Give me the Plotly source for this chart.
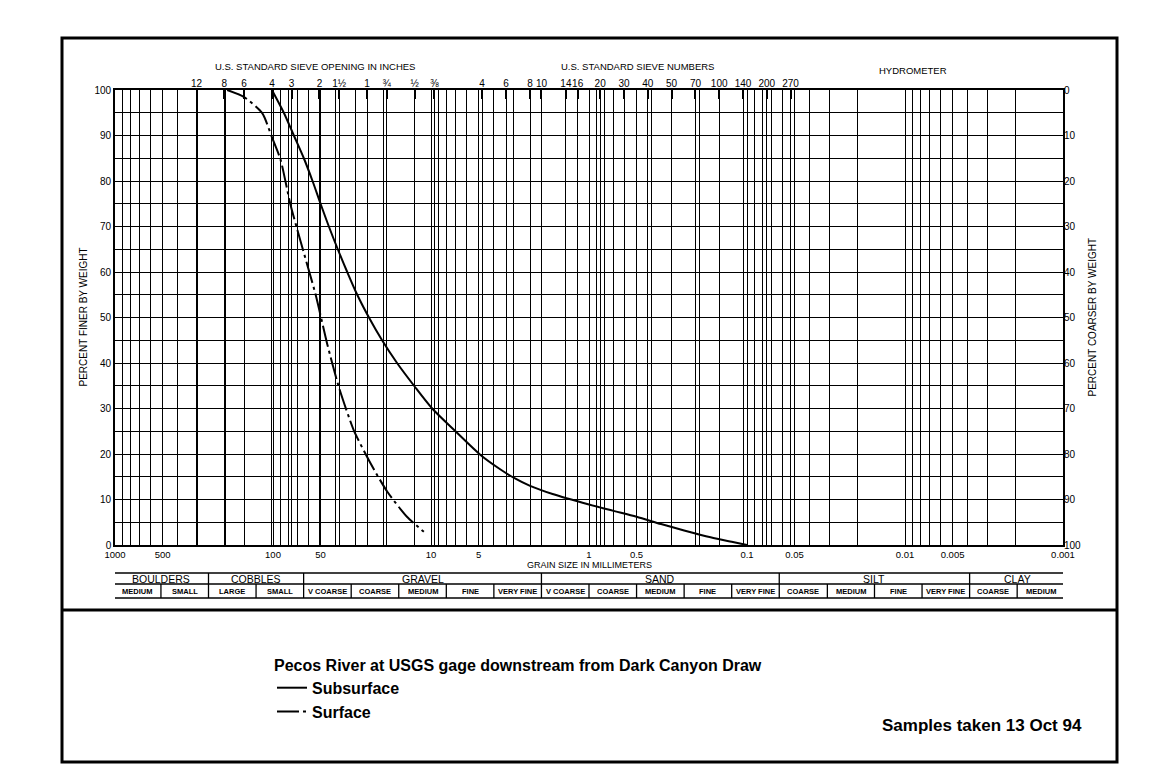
import math
import plotly.graph_objects as go

# ---- grain-size distribution: percent finer by weight vs grain size (mm) ----
subsurface_mm = [101.6, 85.4, 73.8, 63.8, 56.2, 50.0, 44.3, 38.9, 33.9, 29.3, 24.7, 20.4,
                 16.4, 12.8, 9.83, 7.0, 4.86, 3.63, 3.0, 2.36, 1.7, 1.0, 0.7, 0.5, 0.35,
                 0.25, 0.17, 0.125, 0.1]
subsurface_pct = [100, 95, 90, 85, 80, 75, 70, 65, 60, 55, 50, 45,
                  40, 35, 30, 25, 19.8, 16.6, 14.8, 13.0, 11.2, 8.9, 7.5, 6.2, 4.6,
                  3.2, 1.7, 0.7, 0.0]

surface_mm = [195, 153, 117, 101, 89.6, 77.5, 67.0, 53.8, 45.4, 38.3, 30.8, 24.1, 18.9, 14.2, 11.1]
surface_pct = [100, 98.5, 94.9, 89.4, 84.7, 74.8, 66.8, 55.1, 44.2, 34.7, 25.2, 17.9, 11.7, 6.2, 2.9]

# ---- axis labelling ----
grain_labels = [1000, 500, 100, 50, 10, 5, 1, 0.5, 0.1, 0.05, 0.01, 0.005, 0.001]
grain_label_text = ["1000", "500", "100", "50", "10", "5", "1", "0.5", "0.1",
                    "0.05", "0.01", "0.005", "0.001"]

sieve_inch_mm = [304.8, 203.2, 152.4, 101.6, 76.2, 50.8, 38.1, 25.4, 19.05, 12.7, 9.525]
sieve_inch_text = ["12", "8", "6", "4", "3", "2", "1½", "1", "¾", "½", "⅜"]
sieve_no_mm = [4.75, 3.35, 2.36, 2.0, 1.4, 1.18, 0.85, 0.6, 0.425, 0.3, 0.212,
               0.15, 0.106, 0.075, 0.053]
sieve_no_text = ["4", "6", "8", "10", "14", "16", "20", "30", "40", "50", "70",
                 "100", "140", "200", "270"]

pct_ticks = list(range(0, 101, 5))

# ---- soil classification bands (mm limits) ----
major_classes = ["BOULDERS", "COBBLES", "GRAVEL", "SAND", "SILT", "CLAY"]
major_limits = [1024, 256, 64, 2, 0.0625, 0.0039, 0.00098]
sub_classes = ["MEDIUM", "SMALL", "LARGE", "SMALL",
               "V COARSE", "COARSE", "MEDIUM", "FINE", "VERY FINE",
               "V COARSE", "COARSE", "MEDIUM", "FINE", "VERY FINE",
               "COARSE", "MEDIUM", "FINE", "VERY FINE",
               "COARSE", "MEDIUM"]
sub_limits = [1024, 512, 256, 128, 64, 32, 16, 8, 4, 2, 1, 0.5, 0.25, 0.125,
              0.0625, 0.031, 0.0156, 0.0078, 0.0039, 0.00195, 0.00098]

# ---- page geometry (pixels) ----
W, H = 1150, 783
PL, PR, PT, PB = 115, 1063, 90, 545


def px(x):
    return (x - PL) / (PR - PL)


def py(y):
    return (PB - y) / (PB - PT)


TXT = "Liberation Sans"
INK = "black"

# vertical grid: 1-9 in every decade plus the sieve openings
grid_vals = set()
for e in range(-3, 3):
    for d in range(1, 10):
        grid_vals.add(round(d * 10 ** e, 6))
grid_vals.add(1000)
grid_vals.update(sieve_inch_mm)
grid_vals.update(sieve_no_mm)
grid_vals = sorted(grid_vals)
label_map = dict(zip(grain_labels, grain_label_text))
grid_text = []
for v in grid_vals:
    lab = ""
    for k, t in label_map.items():
        if abs(v - k) / k < 1e-6:
            lab = t
    grid_text.append(lab)

fig = go.Figure()

fig.add_trace(go.Scatter(
    x=subsurface_mm, y=subsurface_pct, mode="lines", name="Subsurface",
    line=dict(color=INK, width=2, shape="spline", smoothing=0.8),
    hoverinfo="skip"))
fig.add_trace(go.Scatter(
    x=surface_mm, y=surface_pct, mode="lines", name="Surface",
    line=dict(color=INK, width=2, shape="spline", smoothing=0.6,
              dash="22px,4px,3px,4px"),
    hoverinfo="skip"))
# percent coarser on the secondary axes (keeps top/right scales active)
fig.add_trace(go.Scatter(
    x=subsurface_mm, y=[100 - p for p in subsurface_pct], xaxis="x2", yaxis="y2",
    mode="lines", line=dict(width=0, color="rgba(0,0,0,0)"), showlegend=False,
    hoverinfo="skip"))

tickfont = dict(family=TXT, size=10, color=INK)

fig.update_layout(
    width=W, height=H,
    margin=dict(l=PL, r=W - PR, t=PT, b=H - PB, pad=0),
    paper_bgcolor="white", plot_bgcolor="white",
    xaxis=dict(type="log", range=[3, -3], tickvals=grid_vals, ticktext=grid_text,
               tickangle=0, showgrid=True, gridcolor=INK, gridwidth=1.4,
               ticks="", showline=True, linecolor=INK, linewidth=1.6, mirror=True,
               tickfont=dict(family=TXT, size=9.5, color=INK), zeroline=False),
    xaxis2=dict(type="log", range=[3, -3], overlaying="x", side="top",
                tickvals=sieve_inch_mm + sieve_no_mm,
                ticktext=sieve_inch_text + sieve_no_text, tickangle=0,
                ticks="inside", ticklen=9, tickwidth=1.6, tickcolor=INK,
                showgrid=False, showline=False, tickfont=tickfont),
    yaxis=dict(range=[0, 100], tickvals=pct_ticks,
               ticktext=[str(v) if v % 10 == 0 else "" for v in pct_ticks],
               showgrid=True, gridcolor=INK, gridwidth=1.4, ticks="",
               showline=True, linecolor=INK, linewidth=1.6, mirror=True,
               tickfont=tickfont, zeroline=False),
    yaxis2=dict(range=[100, 0], overlaying="y", side="right",
                tickvals=list(range(0, 101, 10)), showgrid=False, ticks="",
                tickfont=tickfont, zeroline=False),
    showlegend=True,
    legend=dict(x=px(272), y=py(650), xanchor="left", yanchor="top",
                bgcolor="rgba(0,0,0,0)", borderwidth=0, tracegroupgap=0,
                font=dict(family=TXT, size=16, color=INK, weight="bold"),
                title=dict(text="Pecos River at USGS gage downstream from Dark Canyon Draw",
                           font=dict(family=TXT, size=16, color=INK, weight="bold"),
                           side="top")),
)

shapes = []
annotations = []

# page frame and divider
shapes.append(dict(type="rect", xref="paper", yref="paper", x0=px(62), x1=px(1117),
                   y0=py(762), y1=py(38), line=dict(color=INK, width=3)))
shapes.append(dict(type="line", xref="paper", yref="paper", x0=px(62), x1=px(1117),
                   y0=py(610), y1=py(610), line=dict(color=INK, width=3)))

# classification table
t_top, t_mid, t_bot = py(573), py(584), py(598)
tbl_line = dict(color=INK, width=1.3)
for yy in (t_top, t_mid, t_bot):
    shapes.append(dict(type="line", xref="x", yref="paper", x0=major_limits[0],
                       x1=major_limits[-1], y0=yy, y1=yy, line=tbl_line))
for v in major_limits:
    shapes.append(dict(type="line", xref="x", yref="paper", x0=v, x1=v,
                       y0=t_bot, y1=t_top, line=tbl_line))
for v in sub_limits:
    if v not in major_limits:
        shapes.append(dict(type="line", xref="x", yref="paper", x0=v, x1=v,
                           y0=t_bot, y1=t_mid, line=tbl_line))
for i, name in enumerate(major_classes):
    xc = (math.log10(major_limits[i]) + math.log10(major_limits[i + 1])) / 2
    annotations.append(dict(xref="x", yref="paper", x=xc, y=(t_top + t_mid) / 2,
                            text=name, showarrow=False, xanchor="center", yanchor="middle",
                            font=dict(family=TXT, size=10.5, color=INK)))
for i, name in enumerate(sub_classes):
    xc = (math.log10(sub_limits[i]) + math.log10(sub_limits[i + 1])) / 2
    annotations.append(dict(xref="x", yref="paper", x=xc, y=(t_mid + t_bot) / 2,
                            text=name, showarrow=False, xanchor="center", yanchor="middle",
                            font=dict(family=TXT, size=7.5, color=INK, weight="bold")))

# axis captions
cap = dict(family=TXT, size=9.5, color=INK)


def caption(x, y, text, angle=0, font=cap, xanchor="center"):
    return dict(xref="paper", yref="paper", x=x, y=y, text=text, showarrow=False,
                textangle=angle, xanchor=xanchor, yanchor="middle", font=font)


side_cap = dict(family=TXT, size=10, color=INK)
annotations += [
    caption(px(315), py(67), "U.S. STANDARD SIEVE OPENING IN INCHES"),
    caption(px(637), py(67), "U.S. STANDARD SIEVE NUMBERS"),
    caption(px(913), py(71), "HYDROMETER"),
    caption(0.5, py(565), "GRAIN SIZE IN MILLIMETERS", font=dict(family=TXT, size=9, color=INK)),
    caption(px(83), 0.5, "PERCENT FINER BY WEIGHT", angle=-90, font=side_cap),
    caption(px(1092), 0.5, "PERCENT COARSER BY WEIGHT", angle=-90, font=side_cap),
    caption(px(1084), py(725), "Samples taken 13 Oct 94",
            font=dict(family=TXT, size=17, color=INK, weight="bold"), xanchor="right"),
]

fig.update_layout(shapes=shapes, annotations=annotations)
fig.write_html("out.html")
